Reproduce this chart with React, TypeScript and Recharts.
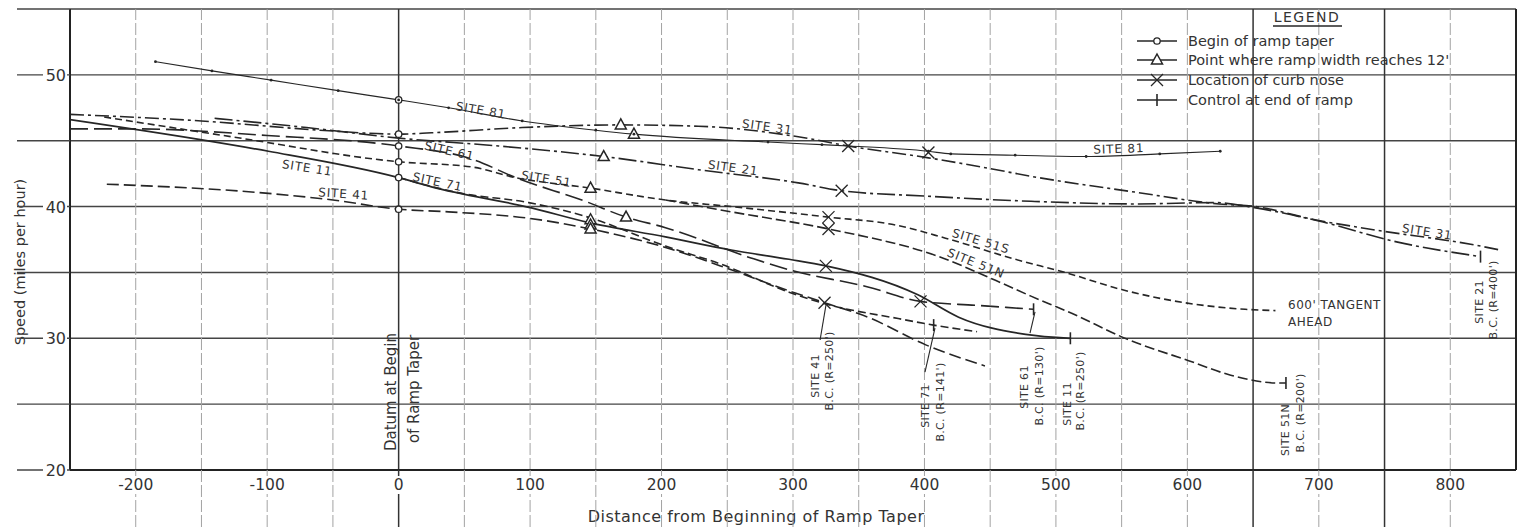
import {
  ComposedChart,
  Line,
  Scatter,
  XAxis,
  YAxis,
  ReferenceLine,
  ReferenceDot,
  Legend,
} from 'recharts';

// speed profiles (x = ft from begin of taper, y = mph)
const site81 = [
  { x: -185, y: 51.0 }, { x: -142, y: 50.3 }, { x: -97, y: 49.6 }, { x: -46, y: 48.8 },
  { x: 0, y: 48.1 }, { x: 38, y: 47.5 }, { x: 94, y: 46.5 }, { x: 150, y: 45.8 },
  { x: 179, y: 45.5 }, { x: 281, y: 44.9 }, { x: 322, y: 44.7 }, { x: 342, y: 44.6 },
  { x: 403, y: 44.2 }, { x: 420, y: 44.0 }, { x: 469, y: 43.9 }, { x: 523, y: 43.8 },
  { x: 579, y: 44.0 }, { x: 625, y: 44.2 },
];
const site31 = [
  { x: -250, y: 47.0 }, { x: -150, y: 46.5 }, { x: -60, y: 45.8 }, { x: 0, y: 45.5 },
  { x: 25, y: 45.6 }, { x: 94, y: 46.0 }, { x: 169, y: 46.2 }, { x: 228, y: 46.1 },
  { x: 304, y: 45.3 }, { x: 342, y: 44.6 }, { x: 403, y: 43.7 }, { x: 449, y: 42.9 },
  { x: 481, y: 42.3 }, { x: 560, y: 41.1 }, { x: 624, y: 40.2 }, { x: 652, y: 40.0 },
  { x: 697, y: 39.0 }, { x: 738, y: 38.3 }, { x: 823, y: 37.0 }, { x: 838, y: 36.7 },
];
const site21 = [
  { x: -140, y: 46.7 }, { x: -70, y: 46.0 }, { x: 0, y: 45.2 }, { x: 76, y: 44.6 },
  { x: 156, y: 43.8 }, { x: 228, y: 42.8 }, { x: 304, y: 41.8 }, { x: 337, y: 41.2 },
  { x: 400, y: 40.8 }, { x: 481, y: 40.4 }, { x: 560, y: 40.2 }, { x: 621, y: 40.3 },
  { x: 652, y: 39.9 }, { x: 700, y: 38.9 }, { x: 760, y: 37.3 }, { x: 823, y: 36.2 },
];
const site61 = [
  { x: -250, y: 45.9 }, { x: -200, y: 45.9 }, { x: -100, y: 45.4 }, { x: 0, y: 44.6 },
  { x: 56, y: 43.6 }, { x: 89, y: 42.2 }, { x: 142, y: 40.4 }, { x: 173, y: 39.2 },
  { x: 203, y: 38.4 }, { x: 268, y: 36.1 }, { x: 297, y: 35.2 }, { x: 357, y: 33.9 },
  { x: 397, y: 32.8 }, { x: 440, y: 32.5 }, { x: 483, y: 32.2 },
];
const site51s = [
  { x: -224, y: 46.8 }, { x: -127, y: 45.3 }, { x: 0, y: 43.4 }, { x: 56, y: 43.0 },
  { x: 89, y: 42.2 }, { x: 146, y: 41.4 }, { x: 203, y: 40.5 }, { x: 253, y: 40.0 },
  { x: 327, y: 39.2 }, { x: 378, y: 38.6 }, { x: 416, y: 37.6 }, { x: 469, y: 36.0 },
  { x: 507, y: 35.0 }, { x: 550, y: 33.7 }, { x: 598, y: 32.7 }, { x: 644, y: 32.2 },
  { x: 667, y: 32.1 },
];
const site51n = [
  { x: 203, y: 40.5 }, { x: 253, y: 39.6 }, { x: 327, y: 38.3 }, { x: 411, y: 36.2 },
  { x: 454, y: 34.4 }, { x: 481, y: 33.2 }, { x: 512, y: 31.9 }, { x: 555, y: 29.9 },
  { x: 601, y: 28.3 }, { x: 633, y: 27.2 }, { x: 669, y: 26.6 }, { x: 675, y: 26.6 },
];
const site11 = [
  { x: -250, y: 46.6 }, { x: -152, y: 45.1 }, { x: -99, y: 44.2 }, { x: 0, y: 42.2 },
  { x: 25, y: 41.5 }, { x: 101, y: 39.9 }, { x: 144, y: 38.8 }, { x: 203, y: 37.7 },
  { x: 253, y: 36.7 }, { x: 297, y: 36.0 }, { x: 325, y: 35.5 }, { x: 395, y: 33.3 },
  { x: 426, y: 31.6 }, { x: 477, y: 30.3 }, { x: 511, y: 30.0 },
];
const site71 = [
  { x: 0, y: 42.2 }, { x: 48, y: 41.0 }, { x: 99, y: 40.3 }, { x: 144, y: 39.2 },
  { x: 203, y: 37.0 }, { x: 246, y: 35.6 }, { x: 297, y: 33.5 }, { x: 325, y: 32.6 },
  { x: 380, y: 31.5 }, { x: 407, y: 31.0 }, { x: 440, y: 30.5 },
];
const site41 = [
  { x: -222, y: 41.7 }, { x: -99, y: 41.0 }, { x: -50, y: 40.5 }, { x: 0, y: 39.8 },
  { x: 38, y: 39.6 }, { x: 100, y: 39.1 }, { x: 146, y: 38.3 }, { x: 203, y: 36.9 },
  { x: 253, y: 35.2 }, { x: 294, y: 33.7 }, { x: 324, y: 32.7 }, { x: 357, y: 31.6 },
  { x: 401, y: 29.5 }, { x: 446, y: 27.9 },
];

// event markers
const beginPts = [
  { x: 0, y: 48.1 }, { x: 0, y: 45.5 }, { x: 0, y: 44.6 },
  { x: 0, y: 43.4 }, { x: 0, y: 42.2 }, { x: 0, y: 39.8 },
];
const widthPts = [
  { x: 179, y: 45.5 }, { x: 169, y: 46.2 }, { x: 156, y: 43.8 }, { x: 146, y: 41.4 },
  { x: 173, y: 39.2 }, { x: 146, y: 39.0 }, { x: 146, y: 38.6 }, { x: 146, y: 38.3 },
];
const nosePts = [
  { x: 342, y: 44.6 }, { x: 403, y: 44.1 }, { x: 337, y: 41.2 }, { x: 327, y: 39.2 },
  { x: 327, y: 38.3 }, { x: 325, y: 35.5 }, { x: 397, y: 32.8 }, { x: 324, y: 32.7 },
];
const endPts = [
  { x: 823, y: 36.2 }, { x: 407, y: 31.0 }, { x: 483, y: 32.2 },
  { x: 511, y: 30.0 }, { x: 675, y: 26.6 },
];

const xTicks = [-200, -150, -100, -50, 0, 50, 100, 150, 200, 250, 300, 350, 400, 450, 500, 550, 600, 650, 700, 750, 800];
const yTicks = [20, 25, 30, 35, 40, 45, 50, 55];
const hGrid = [25, 30, 35, 40, 45, 50, 55];
const solidX = [0, 650, 750];

// annotations
const notes = [
  { kind: 'site', x: 62, y: 47.0, a: 10, text: 'SITE 81' },
  { kind: 'site', x: 548, y: 44.07, a: -2, text: 'SITE 81' },
  { kind: 'site', x: 280, y: 45.74, a: 8, text: 'SITE 31' },
  { kind: 'site', x: 782, y: 37.77, a: 9, text: 'SITE 31' },
  { kind: 'site', x: 38, y: 43.92, a: 13, text: 'SITE 61' },
  { kind: 'site', x: 254, y: 42.63, a: 8, text: 'SITE 21' },
  { kind: 'site', x: 112, y: 41.79, a: 9, text: 'SITE 51' },
  { kind: 'site', x: -70, y: 42.63, a: 9, text: 'SITE 11' },
  { kind: 'site', x: 29, y: 41.57, a: 12, text: 'SITE 71' },
  { kind: 'site', x: -42, y: 40.65, a: 4, text: 'SITE 41' },
  { kind: 'site', x: 442, y: 37.08, a: 17, text: 'SITE 51S' },
  { kind: 'site', x: 438, y: 35.41, a: 22, text: 'SITE 51N' },
  { kind: 'tag', x: 676.6, y: 32.22, a: 0, text: "600' TANGENT" },
  { kind: 'tag', x: 676.6, y: 30.93, a: 0, text: 'AHEAD' },
  { kind: 'bc', x: 319.8, y: 27.14, a: -90, text: 'SITE 41' },
  { kind: 'bc', x: 330.4, y: 27.52, a: -90, text: "B.C. (R=250')" },
  { kind: 'bc', x: 403.5, y: 24.86, a: -90, text: 'SITE 71' },
  { kind: 'bc', x: 414.9, y: 25.16, a: -90, text: "B.C. (R=141')" },
  { kind: 'bc', x: 478.8, y: 26.3, a: -90, text: 'SITE 61' },
  { kind: 'bc', x: 490.2, y: 26.38, a: -90, text: "B.C. (R=130')" },
  { kind: 'bc', x: 511.5, y: 25.01, a: -90, text: 'SITE 11' },
  { kind: 'bc', x: 521.4, y: 26.0, a: -90, text: "B.C. (R=250')" },
  { kind: 'bc', x: 677.4, y: 23.04, a: -90, text: 'SITE 51N' },
  { kind: 'bc', x: 688.8, y: 24.33, a: -90, text: "B.C. (R=200')" },
  { kind: 'bc', x: 824.9, y: 32.76, a: -90, text: 'SITE 21' },
  { kind: 'bc', x: 835.6, y: 32.91, a: -90, text: "B.C. (R=400')" },
  { kind: 'datum', x: -2.0, y: 25.92, a: -90, text: 'Datum at Begin' },
  { kind: 'datum', x: 15.5, y: 26.15, a: -90, text: 'of Ramp Taper' },
  { kind: 'xtitle', x: 271.9, y: 16.05, a: 0, text: 'Distance from Beginning of Ramp Taper' },
  { kind: 'ytitle', x: -284.2, y: 35.79, a: -90, text: 'Speed (miles per hour)' },
];

const leaders = [
  { x1: 320.6, y1: 29.87, x2: 325.1, y2: 32.53 },
  { x1: 400.4, y1: 27.44, x2: 408.0, y2: 30.78 },
  { x1: 480.3, y1: 30.4, x2: 484.1, y2: 32.0 },
];

const INK = '#262626';
const TXT = '#333';
const FONT = '"DejaVu Sans", sans-serif';
const GRID_LIGHT = '#a3a3a3';

const noteStyle: Record<string, any> = {
  site: { fontSize: 12, letterSpacing: 0.8, textAnchor: 'middle' },
  tag: { fontSize: 12, letterSpacing: 0.5, textAnchor: 'start' },
  bc: { fontSize: 11, letterSpacing: 0.3, textAnchor: 'middle' },
  datum: { fontSize: 15, textAnchor: 'middle' },
  xtitle: { fontSize: 16, letterSpacing: 0.5, textAnchor: 'middle' },
  ytitle: { fontSize: 14.5, textAnchor: 'middle' },
};

function YTick(props: any) {
  const { x, y, payload } = props;
  const v = payload.value;
  const labelled = v % 10 === 0 && v < 55;
  return (
    <g>
      <line x1={17} x2={x} y1={y} y2={y} stroke="#444" strokeWidth={1.4} />
      {labelled && <rect x={43} y={y - 8} width={24} height={16} fill="#fff" />}
      {labelled && (
        <text x={66} y={y + 6} textAnchor="end" fontSize={16} fontFamily={FONT} fill={TXT}>
          {v}
        </text>
      )}
    </g>
  );
}

function XTick(props: any) {
  const { x, y, payload } = props;
  const v = payload.value;
  const solid = solidX.includes(v);
  const labelled = v % 100 === 0;
  return (
    <g>
      <line
        x1={x} x2={x} y1={y} y2={527}
        stroke={solid ? '#333' : GRID_LIGHT}
        strokeWidth={solid ? 1.5 : 1}
        strokeDasharray={solid ? undefined : '12 3'}
      />
      {labelled && <rect x={x - 24} y={y + 6} width={48} height={18} fill="#fff" />}
      {labelled && (
        <text x={x} y={y + 20} textAnchor="middle" fontSize={15.5} fontFamily={FONT} fill={TXT}>
          {v}
        </text>
      )}
    </g>
  );
}

const circleShape = (p: any) => (
  <circle cx={p.cx} cy={p.cy} r={3.2} fill="#fff" stroke={INK} strokeWidth={1.3} />
);
const triShape = (p: any) => (
  <path
    d={`M${p.cx},${p.cy - 6} L${p.cx + 5.5},${p.cy + 4} L${p.cx - 5.5},${p.cy + 4} Z`}
    fill="#fff" stroke={INK} strokeWidth={1.5}
  />
);
const crossShape = (p: any) => (
  <g stroke={INK} strokeWidth={1.3}>
    <line x1={p.cx - 6} y1={p.cy - 6} x2={p.cx + 6} y2={p.cy + 6} />
    <line x1={p.cx - 6} y1={p.cy + 6} x2={p.cx + 6} y2={p.cy - 6} />
  </g>
);
const barShape = (p: any) => (
  <line x1={p.cx} y1={p.cy - 6} x2={p.cx} y2={p.cy + 6} stroke={INK} strokeWidth={1.6} />
);

function LegendBox() {
  const rows = [
    { y: 41, label: 'Begin of ramp taper', sym: 'o' },
    { y: 60, label: "Point where ramp width reaches 12'", sym: 't' },
    { y: 80, label: 'Location of curb nose', sym: 'x' },
    { y: 100, label: 'Control at end of ramp', sym: 'b' },
  ];
  return (
    <svg width={340} height={110} style={{ display: 'block' }}>
      <text x={177} y={22} textAnchor="middle" fontSize={14} letterSpacing={1.5} fontFamily={FONT} fill={TXT}>
        LEGEND
      </text>
      <line x1={143} x2={212} y1={26} y2={26} stroke={INK} strokeWidth={1.3} />
      {rows.map((r) => (
        <g key={r.label}>
          <line x1={7} x2={47} y1={r.y} y2={r.y} stroke={INK} strokeWidth={1.3} />
          {r.sym === 'o' && circleShape({ cx: 27, cy: r.y })}
          {r.sym === 't' && triShape({ cx: 27, cy: r.y })}
          {r.sym === 'x' && crossShape({ cx: 27, cy: r.y })}
          {r.sym === 'b' && barShape({ cx: 27, cy: r.y })}
          <text x={58} y={r.y + 5} fontSize={14.5} fontFamily={FONT} fill={TXT}>
            {r.label}
          </text>
        </g>
      ))}
    </svg>
  );
}

export default function App() {
  return (
    <div style={{ position: 'absolute', left: 0, top: 0, width: 1518, height: 531, background: '#fff' }}>
      <ComposedChart width={1518} height={531} margin={{ top: 9, right: 2, bottom: 0, left: 0 }}>
        <XAxis
          type="number"
          dataKey="x"
          domain={[-250, 850]}
          allowDataOverflow
          ticks={xTicks}
          interval={0}
          height={61}
          tickSize={0}
          tickMargin={0}
          tickLine={false}
          axisLine={{ stroke: '#222', strokeWidth: 2 }}
          tick={<XTick />}
        />
        <YAxis
          type="number"
          dataKey="y"
          domain={[20, 55]}
          allowDataOverflow
          ticks={yTicks}
          interval={0}
          width={70}
          tickSize={0}
          tickMargin={0}
          tickLine={false}
          axisLine={{ stroke: '#222', strokeWidth: 2 }}
          tick={<YTick />}
        />

        {hGrid.map((v) => (
          <ReferenceLine key={'h' + v} y={v} stroke="#444" strokeWidth={1.4} />
        ))}
        {xTicks.map((v) => (
          <ReferenceLine
            key={'v' + v}
            x={v}
            stroke={solidX.includes(v) ? '#333' : GRID_LIGHT}
            strokeWidth={solidX.includes(v) ? 1.5 : 1}
            strokeDasharray={solidX.includes(v) ? undefined : '12 3'}
          />
        ))}
        <ReferenceLine x={850} stroke="#222" strokeWidth={2} />

        <Line data={site81} dataKey="y" type="monotone" stroke={INK} strokeWidth={1.1}
          dot={{ r: 1.4, fill: INK, stroke: 'none' }} isAnimationActive={false} />
        <Line data={site31} dataKey="y" type="monotone" stroke={INK} strokeWidth={1.6}
          strokeDasharray="14 4 3 4" dot={false} isAnimationActive={false} />
        <Line data={site21} dataKey="y" type="monotone" stroke={INK} strokeWidth={1.6}
          strokeDasharray="18 4 3 4" dot={false} isAnimationActive={false} />
        <Line data={site61} dataKey="y" type="monotone" stroke={INK} strokeWidth={1.6}
          strokeDasharray="18 6" dot={false} isAnimationActive={false} />
        <Line data={site51s} dataKey="y" type="monotone" stroke={INK} strokeWidth={1.6}
          strokeDasharray="7 4" dot={false} isAnimationActive={false} />
        <Line data={site51n} dataKey="y" type="monotone" stroke={INK} strokeWidth={1.6}
          strokeDasharray="10 4" dot={false} isAnimationActive={false} />
        <Line data={site11} dataKey="y" type="monotone" stroke={INK} strokeWidth={1.7}
          dot={false} isAnimationActive={false} />
        <Line data={site71} dataKey="y" type="monotone" stroke={INK} strokeWidth={1.6}
          strokeDasharray="8 4" dot={false} isAnimationActive={false} />
        <Line data={site41} dataKey="y" type="monotone" stroke={INK} strokeWidth={1.6}
          strokeDasharray="12 5" dot={false} isAnimationActive={false} />

        {leaders.map((l, i) => (
          <ReferenceLine
            key={'l' + i}
            segment={[{ x: l.x1, y: l.y1 }, { x: l.x2, y: l.y2 }]}
            stroke={INK}
            strokeWidth={1.1}
            ifOverflow="visible"
          />
        ))}

        <Scatter data={beginPts} dataKey="y" shape={circleShape} isAnimationActive={false} />
        <Scatter data={widthPts} dataKey="y" shape={triShape} isAnimationActive={false} />
        <Scatter data={nosePts} dataKey="y" shape={crossShape} isAnimationActive={false} />
        <Scatter data={endPts} dataKey="y" shape={barShape} isAnimationActive={false} />

        {notes.map((n, i) => (
          <ReferenceDot
            key={'n' + i}
            x={n.x}
            y={n.y}
            r={0}
            ifOverflow="visible"
            shape={(p: any) => (
              <text
                x={p.cx}
                y={p.cy}
                transform={n.a ? `rotate(${n.a} ${p.cx} ${p.cy})` : undefined}
                fontFamily={FONT}
                fill={TXT}
                {...noteStyle[n.kind]}
              >
                {n.text}
              </text>
            )}
          />
        ))}

        <Legend
          layout="horizontal"
          verticalAlign="middle"
          align="center"
          wrapperStyle={{ position: 'absolute', left: 1130, top: 0, width: 340, height: 110 }}
          content={<LegendBox />}
        />
      </ComposedChart>
    </div>
  );
}
